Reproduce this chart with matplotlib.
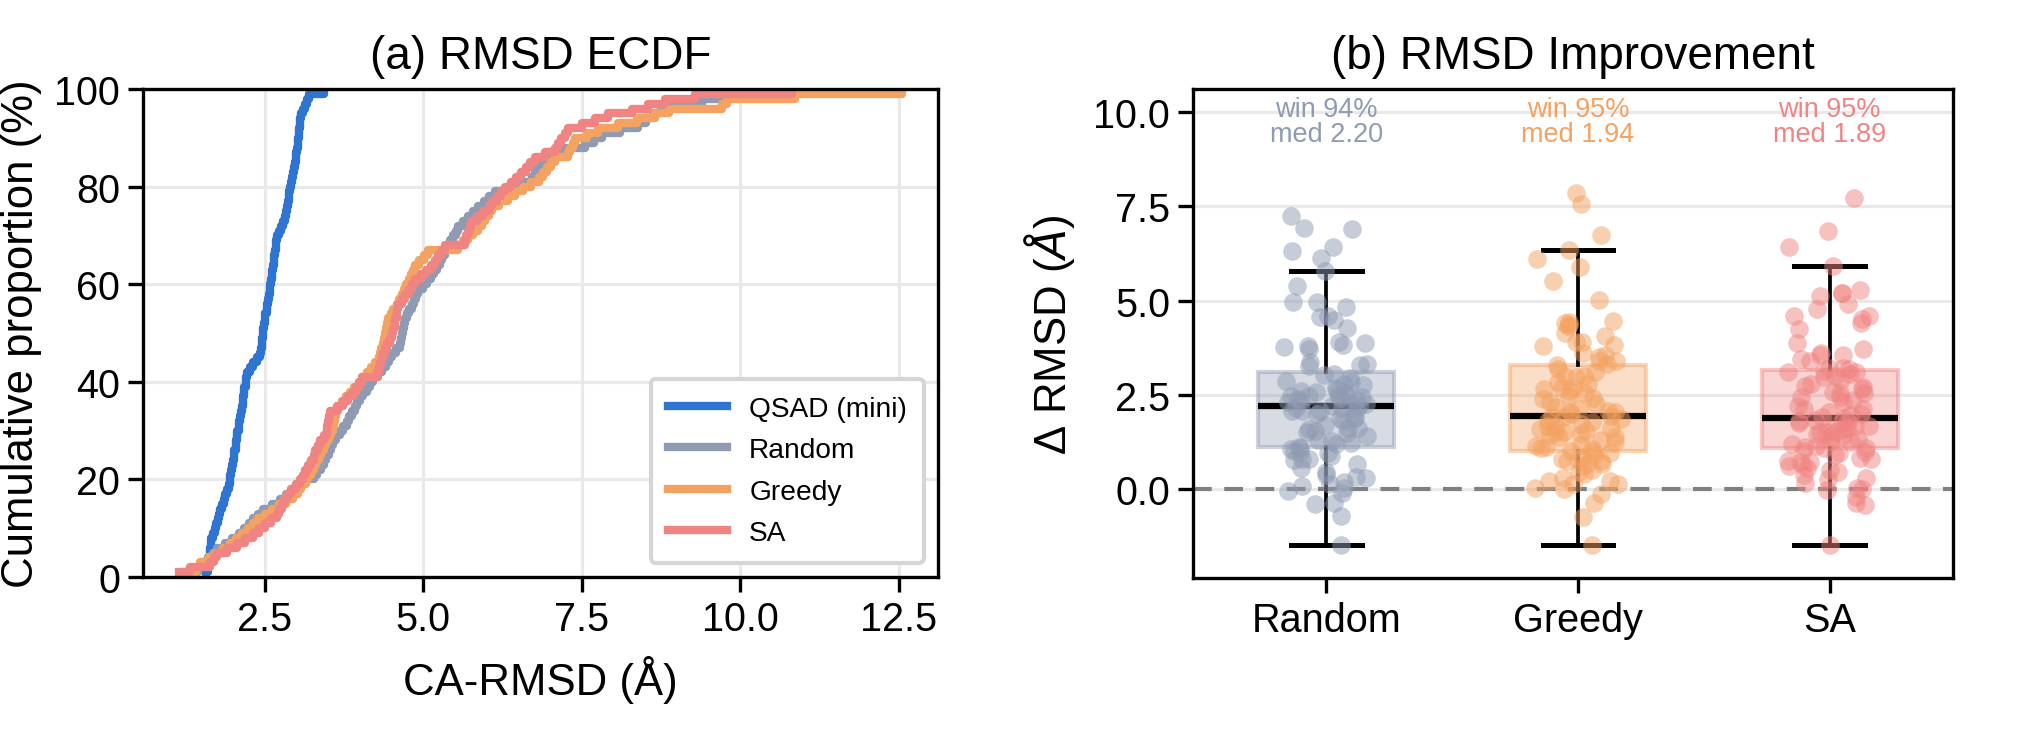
import matplotlib

matplotlib.use("Agg")

import matplotlib.pyplot as plt
import matplotlib.transforms as mtransforms
import numpy as np
from matplotlib.colors import to_rgba

plt.rcParams["font.family"] = ["Liberation Sans", "DejaVu Sans"]

# ECDF data: per-target CA-RMSD (Å) for each method
methods = ["QSAD (mini)", "Random", "Greedy", "SA"]
colors = ["#2F74D1", "#8F9BB3", "#F4A261", "#F08482"]

rmsd_qsad = [
    1.58, 1.60, 1.61, 1.62, 1.63, 1.64, 1.65, 1.66, 1.68, 1.71,
    1.73, 1.76, 1.78, 1.80, 1.83, 1.85, 1.88, 1.90, 1.93, 1.95,
    1.96, 1.97, 1.99, 2.00, 2.01, 2.02, 2.04, 2.05, 2.06, 2.07,
    2.09, 2.10, 2.11, 2.12, 2.14, 2.15, 2.16, 2.17, 2.18, 2.20,
    2.21, 2.22, 2.27, 2.32, 2.38, 2.43, 2.44, 2.45, 2.46, 2.47,
    2.48, 2.49, 2.50, 2.51, 2.53, 2.54, 2.55, 2.57, 2.58, 2.59,
    2.60, 2.61, 2.62, 2.63, 2.64, 2.65, 2.66, 2.67, 2.68, 2.69,
    2.72, 2.75, 2.79, 2.82, 2.83, 2.85, 2.86, 2.88, 2.89, 2.90,
    2.92, 2.93, 2.94, 2.96, 2.97, 2.99, 3.00, 3.01, 3.02, 3.03,
    3.04, 3.04, 3.05, 3.06, 3.08, 3.11, 3.13, 3.16, 3.20, 3.43,
]
rmsd_random = [
    1.30, 1.45, 1.52, 1.60, 1.68, 1.75, 1.87, 1.98, 2.10, 2.17,
    2.25, 2.32, 2.40, 2.48, 2.61, 2.74, 2.83, 2.91, 3.00, 3.13,
    3.27, 3.32, 3.38, 3.43, 3.47, 3.51, 3.54, 3.58, 3.63, 3.69,
    3.74, 3.79, 3.83, 3.87, 3.92, 3.96, 4.00, 4.05, 4.11, 4.16,
    4.21, 4.28, 4.35, 4.42, 4.46, 4.50, 4.57, 4.63, 4.65, 4.66,
    4.68, 4.69, 4.71, 4.75, 4.78, 4.82, 4.85, 4.89, 4.92, 4.99,
    5.06, 5.13, 5.17, 5.21, 5.26, 5.30, 5.34, 5.38, 5.42, 5.47,
    5.51, 5.55, 5.63, 5.71, 5.79, 5.87, 5.96, 6.04, 6.13, 6.32,
    6.52, 6.71, 6.76, 6.81, 6.87, 6.92, 6.97, 7.26, 7.55, 7.70,
    7.82, 8.10, 8.39, 8.51, 8.63, 8.75, 8.87, 9.39, 9.76, 10.40,
]
rmsd_greedy = [
    1.35, 1.42, 1.48, 1.62, 1.72, 1.84, 1.95, 2.05, 2.14, 2.23,
    2.31, 2.40, 2.51, 2.62, 2.73, 2.84, 2.95, 3.02, 3.08, 3.15,
    3.19, 3.23, 3.27, 3.31, 3.35, 3.39, 3.43, 3.47, 3.51, 3.55,
    3.57, 3.59, 3.61, 3.63, 3.65, 3.72, 3.78, 3.85, 3.91, 3.98,
    4.04, 4.11, 4.17, 4.24, 4.30, 4.32, 4.34, 4.36, 4.38, 4.40,
    4.42, 4.43, 4.45, 4.49, 4.53, 4.58, 4.62, 4.66, 4.70, 4.73,
    4.77, 4.80, 4.84, 4.87, 4.94, 5.01, 5.08, 5.55, 5.63, 5.71,
    5.79, 5.87, 5.92, 5.98, 6.03, 6.08, 6.20, 6.33, 6.45, 6.57,
    6.70, 6.82, 6.89, 6.95, 7.02, 7.08, 7.29, 7.32, 7.36, 7.39,
    7.58, 7.76, 8.08, 8.37, 8.66, 8.87, 9.71, 9.79, 10.86, 12.55,
]
rmsd_sa = [
    1.15, 1.32, 1.64, 1.70, 1.74, 1.90, 2.06, 2.19, 2.32, 2.41,
    2.50, 2.60, 2.69, 2.73, 2.77, 2.81, 2.85, 2.92, 2.99, 3.06,
    3.10, 3.14, 3.19, 3.23, 3.27, 3.30, 3.34, 3.37, 3.43, 3.48,
    3.49, 3.50, 3.52, 3.53, 3.64, 3.74, 3.82, 3.90, 3.94, 3.99,
    4.03, 4.27, 4.30, 4.32, 4.35, 4.37, 4.40, 4.43, 4.47, 4.50,
    4.53, 4.55, 4.56, 4.58, 4.59, 4.61, 4.66, 4.71, 4.77, 4.82,
    4.87, 4.96, 5.04, 5.13, 5.18, 5.24, 5.29, 5.34, 5.66, 5.68,
    5.71, 5.74, 5.76, 5.85, 5.94, 6.03, 6.09, 6.16, 6.22, 6.29,
    6.38, 6.46, 6.55, 6.62, 6.69, 6.76, 6.92, 7.08, 7.13, 7.18,
    7.24, 7.29, 7.50, 7.71, 7.92, 8.29, 8.55, 8.81, 9.29, 10.81,
]

# Improvement data: baseline RMSD minus QSAD RMSD (Å)
groups = ["Random", "Greedy", "SA"]
delta_random = [
    7.23, 6.92, 6.90, 6.41, 6.30, 6.12, 5.79, 5.39, 4.83, 4.95,
    4.95, 4.58, 4.55, 4.49, 4.28, 3.87, 3.80, 3.90, 3.82, 3.72,
    3.78, 3.31, 3.25, 3.37, 3.29, 3.05, 3.02, 2.95, 2.87, 2.79,
    2.58, 2.46, 2.41, 2.75, 2.59, 2.50, 2.46, 2.50, 2.54, 2.07,
    1.89, 1.89, 2.15, 1.89, 2.07, 2.28, 2.21, 2.07, 2.10, 1.98,
    1.71, 2.15, 1.81, 1.58, 1.63, 1.50, 1.28, 1.31, 1.19, 1.10,
    1.12, 1.49, 1.63, 2.19, 2.45, 2.33, 2.36, 2.40, 2.25, 2.62,
    2.68, 1.40, 1.22, 2.85, 2.30, 1.55, 1.07, 0.97, 0.79, 0.66,
    0.78, 0.79, 0.37, 0.31, 0.29, 0.18, 0.07, 0.13, 0.02, -0.05,
    -0.11, -0.40, -0.36, -0.72, -1.48, 0.95, 0.88, 0.55, 0.45, 1.02,
]
delta_greedy = [
    7.85, 7.55, 6.74, 6.33, 6.10, 5.88, 5.51, 5.02, 4.36, 4.33,
    4.45, 4.43, 4.40, 4.15, 3.89, 3.80, 3.89, 3.82, 3.61, 3.50,
    3.40, 3.31, 3.40, 3.55, 4.05, 3.28, 2.96, 3.00, 3.18, 3.00,
    2.69, 2.78, 2.56, 2.65, 2.69, 2.48, 2.25, 2.38, 2.30, 2.12,
    2.03, 1.77, 1.90, 1.94, 2.03, 1.68, 1.68, 1.37, 1.50, 1.50,
    1.46, 1.37, 1.11, 1.02, 1.06, 1.93, 1.85, 1.80, 1.72, 1.62,
    1.58, 1.55, 1.42, 1.30, 1.25, 1.18, 1.15, 1.08, 1.98, 2.08,
    2.18, 2.42, 2.60, 2.85, 3.10, 0.79, 0.75, 0.75, 0.79, 0.66,
    0.44, 0.22, 0.13, 0.22, 0.39, 0.13, 0.04, -0.01, -0.13, -0.38,
    -0.73, -1.48, 0.95, 0.90, 0.85, 0.60, 0.50, 0.30, 0.98, 0.70,
]
delta_sa = [
    7.71, 6.84, 6.42, 5.92, 5.28, 5.19, 5.19, 5.12, 4.77, 4.92,
    4.59, 4.40, 4.50, 4.60, 4.24, 3.88, 3.72, 3.61, 3.39, 3.56,
    3.56, 3.45, 3.20, 3.22, 3.18, 3.10, 3.10, 3.14, 2.96, 3.00,
    2.78, 2.70, 2.74, 2.57, 2.43, 2.54, 2.54, 2.65, 2.21, 2.43,
    2.12, 2.12, 1.90, 1.77, 1.96, 1.50, 1.77, 1.59, 1.46, 1.41,
    1.50, 1.63, 1.28, 1.15, 1.10, 1.10, 1.02, 0.72, 0.75, 0.83,
    0.79, 0.55, 0.71, 0.37, 0.44, 0.26, 0.04, 0.17, 0.01, -0.02,
    -0.20, -0.37, -0.42, -1.48, 0.95, 0.90, 0.65, 0.50, 0.30, 0.98,
    0.60, 1.88, 1.84, 1.80, 1.74, 1.68, 1.66, 1.55, 1.52, 1.38,
    1.33, 1.24, 1.20, 1.12, 2.00, 2.05, 2.30, 2.35, 2.88, 3.05,
]
win_pct = [94, 95, 95]
med_delta = [2.20, 1.94, 1.89]


def style_axes(ax):
    for side in ["top", "right", "left", "bottom"]:
        ax.spines[side].set_linewidth(1.6)
        ax.spines[side].set_color("black")
    ax.tick_params(direction="out", length=7, width=1.6, labelsize=19, pad=4)
    ax.set_axisbelow(True)


def main():
    fig = plt.figure(figsize=(2019 / 150, 730 / 150), dpi=150)
    ax1 = fig.add_axes([143 / 2019, 152 / 730, 795 / 2019, 488 / 730])
    ax2 = fig.add_axes([1193 / 2019, 151 / 730, 760 / 2019, 489 / 730])

    # (a) ECDF
    series = [rmsd_qsad, rmsd_random, rmsd_greedy, rmsd_sa]
    for name, vals, c in zip(methods, series, colors):
        x = np.sort(np.asarray(vals))
        y = np.arange(1, len(x) + 1) / len(x) * 100
        ax1.step(x, y, where="post", color=c, lw=4, label=name)
    ax1.set_ylim(0, 100)
    ax1.set_yticks([0, 20, 40, 60, 80, 100])
    ax1.set_xticks([2.5, 5.0, 7.5, 10.0, 12.5])
    ax1.grid(True, color="#E9E9E9", lw=1.5)
    ax1.set_xlabel("CA-RMSD (Å)", fontsize=21, labelpad=8)
    ax1.set_ylabel("Cumulative proportion (%)", fontsize=21, labelpad=6)
    ax1.set_title("(a) RMSD ECDF", fontsize=22, pad=10)
    style_axes(ax1)
    leg = ax1.legend(loc="lower right", fontsize=13.5, handlelength=2.1,
                     frameon=True, fancybox=True, framealpha=1,
                     borderpad=0.6, labelspacing=0.55)
    leg.get_frame().set_edgecolor("#D5D5D5")
    leg.get_frame().set_linewidth(2.0)

    # (b) improvement box + strip
    deltas = [delta_random, delta_greedy, delta_sa]
    box_colors = colors[1:]
    pos = np.arange(len(groups))
    ax2.axhline(0, color="#808080", ls="--", lw=2, dashes=(4.5, 3), zorder=1.5)
    bp = ax2.boxplot(deltas, positions=pos, widths=0.54, patch_artist=True,
                     showfliers=False, capwidths=0.28,
                     medianprops=dict(color="black", lw=3),
                     whiskerprops=dict(color="black", lw=1.8),
                     capprops=dict(color="black", lw=2.4))
    for patch, c in zip(bp["boxes"], box_colors):
        patch.set_facecolor(to_rgba(c, 0.35))
        patch.set_edgecolor(to_rgba(c, 0.45))
        patch.set_linewidth(2)

    # horizontal jitter only for display
    rng = np.random.default_rng(3)
    for i, (vals, c) in enumerate(zip(deltas, box_colors)):
        jitter = rng.uniform(-0.17, 0.17, len(vals))
        ax2.scatter(i + jitter, vals, s=80, color=c, alpha=0.5, lw=0, zorder=3)

    trans = mtransforms.blended_transform_factory(ax2.transData, ax2.transAxes)
    for i, (w, m, c) in enumerate(zip(win_pct, med_delta, box_colors)):
        ax2.text(i, 0.985, f"win {w}%\nmed {m:.2f}", transform=trans,
                 ha="center", va="top", color=c, fontsize=13, linespacing=0.95)

    ax2.set_xlim(-0.53, 2.49)
    ax2.set_ylim(-2.36, 10.61)
    ax2.set_yticks([0.0, 2.5, 5.0, 7.5, 10.0])
    ax2.set_xticks(pos)
    ax2.set_xticklabels(groups)
    ax2.yaxis.grid(True, color="#E9E9E9", lw=1.5)
    ax2.set_ylabel("Δ RMSD ($\\AA$)", fontsize=21, labelpad=8)
    ax2.set_title("(b) RMSD Improvement", fontsize=22, pad=10)
    style_axes(ax2)

    fig.savefig("out.png", dpi=150)


if __name__ == "__main__":
    main()
